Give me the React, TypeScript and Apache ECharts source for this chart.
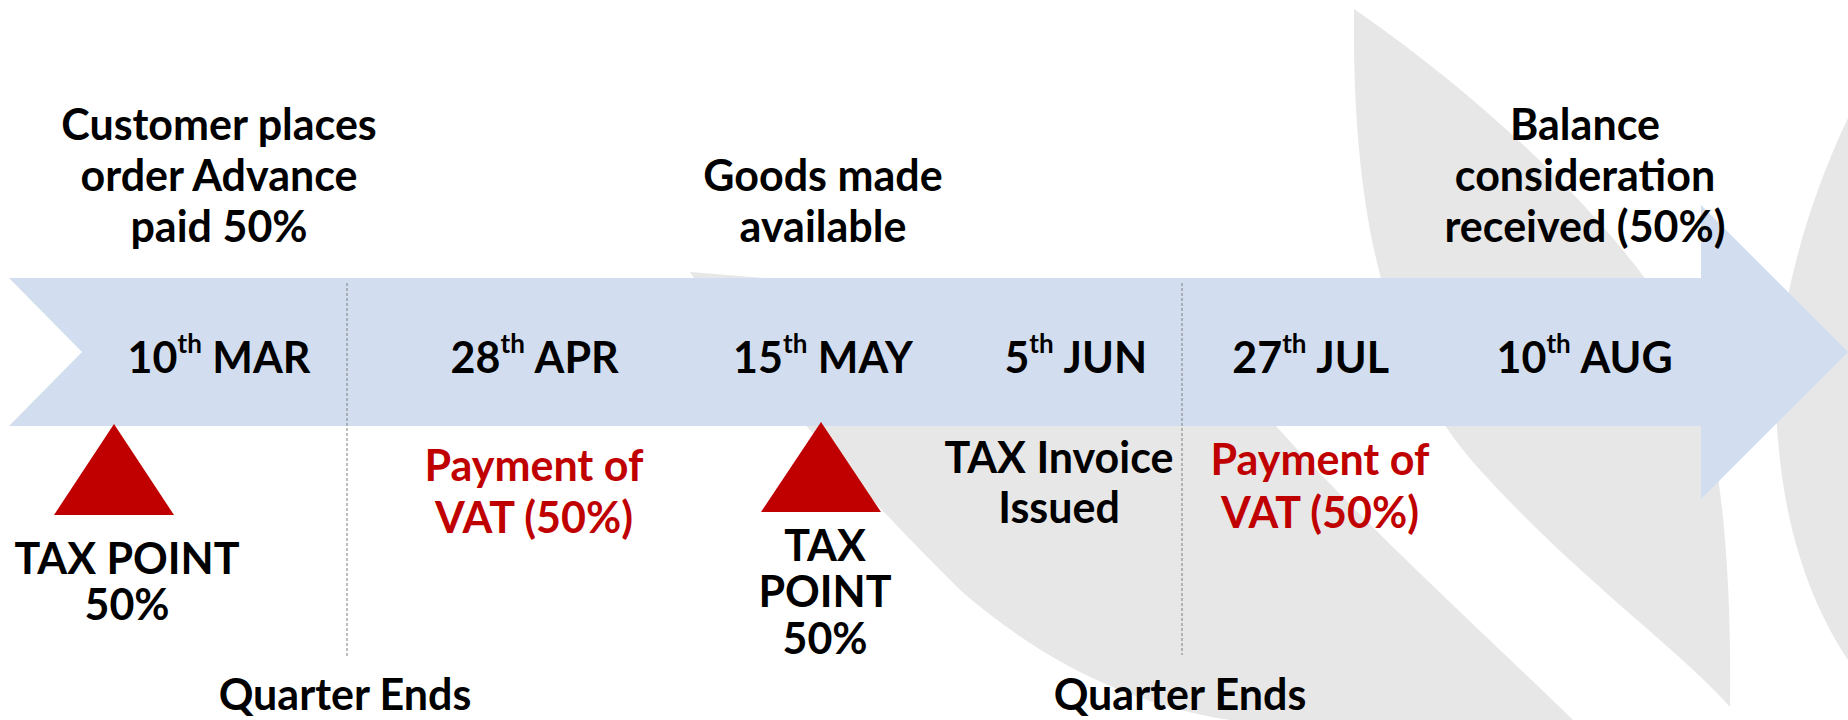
import React, { useEffect, useRef } from "react";
import * as echarts from "echarts";

// ---------- data ----------
const dateDays = ["10", "28", "15", "5", "27", "10"];
const dateSuffixes = ["th", "th", "th", "th", "th", "th"];
const dateMonths = ["MAR", "APR", "MAY", "JUN", "JUL", "AUG"];

const aboveLabels: string[][] = [
  ["Customer places", "order Advance", "paid 50%"],
  [],
  ["Goods made", "available"],
  [],
  [],
  ["Balance", "consideration", "received (50%)"],
];

const belowLabels: string[][] = [
  ["TAX POINT", "50%"],
  ["Payment of", "VAT (50%)"],
  ["TAX", "POINT", "50%"],
  ["TAX Invoice", "Issued"],
  ["Payment of", "VAT (50%)"],
  [],
];
const belowIsRed = [false, true, false, false, true, false];
const taxPointEvents = [0, 2];
const quarterEndLabels = ["Quarter Ends", "Quarter Ends"];

// ---------- layout (pixels) ----------
const W = 1848;
const H = 720;
const FONT = "Lato";
const FS = 43;
const MID = 16.6; // baseline offset from text centre
const columnX = [219, 535, 823, 1076, 1311, 1585];
const belowX = [127, 534, 825, 1059, 1320, 0];
const belowFirstBaseline = [574, 481, 561, 473, 475, 0];
const belowSpacing = [46, 52, 46.5, 50, 53, 0];
const aboveLastBaseline = 242;
const aboveSpacing = 51;
const dateBaseline = 373;
const triangleX = [114, 821];
const triangleTop = [424, 422];
const triangleBase = [515, 512];
const quarterX = [347, 1182];
const quarterLineEnd = [658, 655];
const quarterBaseline = 710;

const BAND = "#D2DEEF";
const GREY = "#E7E7E7";
const RED = "#C00000";

echarts.graphic.registerShape(
  "bladeM",
  echarts.graphic.extendPath(
    "M1354,9 C1500,110 1620,230 1680,330 C1720,420 1732,560 1730,707 C1680,650 1580,580 1480,470 C1380,360 1352,200 1354,9 Z",
    {}
  )
);
echarts.graphic.registerShape(
  "bladeD",
  echarts.graphic.extendPath(
    "M1848,118 C1790,240 1770,360 1778,440 C1786,540 1815,610 1848,660 Z",
    {}
  )
);
echarts.graphic.registerShape(
  "bladeB",
  echarts.graphic.extendPath(
    "M690,272 L800,281 L1150,300 C1210,340 1250,390 1276,426 C1360,520 1470,620 1573,720 L1230,720 C1130,705 1040,660 960,590 C850,480 760,380 690,272 Z",
    {}
  )
);

// one multi-line text block; firstBaseline is the baseline of its first line
function textBlock(lines: string[], x: number, firstBaseline: number, spacing: number, color: string) {
  return {
    type: "text",
    z: 10,
    x,
    y: firstBaseline - MID - spacing / 2,
    style: {
      text: lines.join("\n"),
      align: "center",
      verticalAlign: "top",
      lineHeight: spacing,
      fill: color,
      fontFamily: FONT,
      fontWeight: "bold",
      fontSize: FS,
    },
  };
}

function buildGraphics() {
  const g: any[] = [];
  // background watermark
  g.push({ type: "bladeB", z: 0, style: { fill: GREY } });
  g.push({ type: "bladeM", z: 0, style: { fill: GREY } });
  g.push({ type: "bladeD", z: 0, style: { fill: GREY } });

  // timeline arrow band
  g.push({
    type: "polygon",
    z: 1,
    shape: {
      points: [
        [9, 278],
        [1701, 278],
        [1701, 205],
        [1848, 352],
        [1701, 499],
        [1701, 426],
        [9, 426],
        [82, 352],
      ],
    },
    style: { fill: BAND },
  });

  // quarter end dashed lines + labels
  quarterEndLabels.forEach((lab, i) => {
    g.push({
      type: "line",
      z: 2,
      shape: { x1: quarterX[i], y1: 283, x2: quarterX[i], y2: quarterLineEnd[i] },
      style: { stroke: "#7F7F7F", lineWidth: 1, lineDash: [3, 2] },
    });
    g.push(textBlock([lab], quarterX[i] - 2, quarterBaseline, 52, "#000"));
  });

  // tax point triangles
  taxPointEvents.forEach((ev, i) => {
    g.push({
      type: "polygon",
      z: 3,
      shape: {
        points: [
          [triangleX[i], triangleTop[i]],
          [triangleX[i] + 60, triangleBase[i]],
          [triangleX[i] - 60, triangleBase[i]],
        ],
      },
      style: { fill: RED },
    });
  });

  // dates
  dateDays.forEach((d, i) => {
    const base = { fontFamily: FONT, fontWeight: "bold", fill: "#000" };
    g.push({
      type: "text",
      z: 10,
      x: columnX[i],
      y: dateBaseline - MID,
      style: {
        text: `{d|${d}}{s|${dateSuffixes[i]}}{m| ${dateMonths[i]}}`,
        align: "center",
        verticalAlign: "middle",
        fill: "#000",
        rich: {
          d: { ...base, fontSize: FS, lineHeight: 52 },
          s: { ...base, fontSize: 26, lineHeight: 37, verticalAlign: "top" },
          m: { ...base, fontSize: FS, lineHeight: 52 },
        },
      },
    });
  });

  // labels above the band
  aboveLabels.forEach((lines, i) => {
    const n = lines.length;
    if (!n) return;
    g.push(textBlock(lines, columnX[i], aboveLastBaseline - aboveSpacing * (n - 1), aboveSpacing, "#000"));
  });

  // labels below the band
  belowLabels.forEach((lines, i) => {
    if (!lines.length) return;
    g.push(textBlock(lines, belowX[i], belowFirstBaseline[i], belowSpacing[i], belowIsRed[i] ? RED : "#000"));
  });
  return g;
}

export default function App() {
  const ref = useRef<HTMLDivElement>(null);
  useEffect(() => {
    if (!ref.current) return;
    const chart = echarts.init(ref.current, null, { renderer: "svg", width: W, height: H });
    chart.setOption({
      animation: false,
      backgroundColor: "#ffffff",
      graphic: { elements: buildGraphics() },
    });
    return () => chart.dispose();
  }, []);
  return (
    <div
      ref={ref}
      style={{ position: "fixed", left: 0, top: 0, width: W, height: H, background: "#fff" }}
    />
  );
}
